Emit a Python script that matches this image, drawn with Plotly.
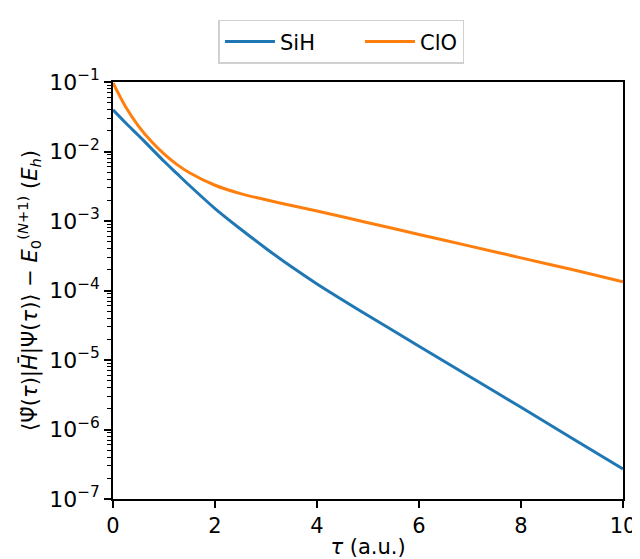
import plotly.graph_objects as go

tau = [0, 0.25, 0.5, 0.75, 1.0, 1.25, 1.5, 2.0, 2.5, 3.0, 3.5, 4.0, 5.0, 6.0, 7.0, 8.0, 9.0, 10.0]
sih = [3.98e-2, 2.57e-2, 1.70e-2, 1.11e-2, 7.24e-3, 4.84e-3, 3.24e-3, 1.51e-3, 7.67e-4, 4.03e-4,
       2.19e-4, 1.245e-4, 4.37e-5, 1.58e-5, 5.75e-6, 2.09e-6, 7.50e-7, 2.71e-7]
clo = [9.7e-2, 4.37e-2, 2.32e-2, 1.40e-2, 9.23e-3, 6.53e-3, 4.95e-3, 3.27e-3, 2.48e-3, 2.02e-3,
       1.67e-3, 1.39e-3, 9.44e-4, 6.41e-4, 4.35e-4, 2.95e-4, 2.00e-4, 1.34e-4]

ytick_vals = [1e-7, 1e-6, 1e-5, 1e-4, 1e-3, 1e-2, 1e-1]
ytick_text = ["10<sup>−7</sup>", "10<sup>−6</sup>", "10<sup>−5</sup>", "10<sup>−4</sup>",
              "10<sup>−3</sup>", "10<sup>−2</sup>", "10<sup>−1</sup>"]
xtick_vals = [0, 2, 4, 6, 8, 10]

minor_vals = [m * 10.0 ** e for e in range(-7, -1) for m in range(2, 10)]

fig = go.Figure()
fig.add_trace(go.Scatter(x=tau, y=sih, mode="lines", name="SiH\u00a0\u00a0\u00a0\u00a0\u00a0\u00a0",
                         line=dict(color="#1f77b4", width=3, shape="spline", smoothing=0.9)))
fig.add_trace(go.Scatter(x=tau, y=clo, mode="lines", name="ClO",
                         line=dict(color="#ff7f0e", width=3, shape="spline", smoothing=0.9)))

font = dict(family="DejaVu Sans", size=21, color="black")
fig.update_layout(
    width=640, height=559,
    margin=dict(l=105, r=15, t=69, b=60),
    paper_bgcolor="white", plot_bgcolor="white",
    font=font,
    showlegend=True,
    legend=dict(orientation="h", x=0.448, y=1.0965, xanchor="center", yanchor="middle",
                bordercolor="#d0d0d0", borderwidth=1.5, font=font, itemwidth=50),
)
fig.update_xaxes(range=[0, 10], tickvals=xtick_vals, ticks="outside", ticklen=7, tickwidth=1.5,
                 tickcolor="black", showline=True, linecolor="black", linewidth=1.5,
                 mirror=True, showgrid=False, zeroline=False, tickfont=dict(size=21),
                 title=dict(text="<i>τ</i> (a.u.)", standoff=2, font=font))
fig.update_yaxes(type="log", range=[-7, -1], tickvals=ytick_vals, ticktext=ytick_text,
                 ticks="outside", ticklen=7, tickwidth=1.5, tickcolor="black", showline=True,
                 linecolor="black", linewidth=1.5, mirror=True, showgrid=False, zeroline=False,
                 tickfont=dict(size=22),
                 minor=dict(tickmode="array", tickvals=minor_vals, ticks="outside",
                            ticklen=4, tickwidth=1.2, tickcolor="black", showgrid=False),
                 title=dict(text="⟨Ψ̃(<i>τ</i>)|<i>H̄</i>|Ψ(<i>τ</i>)⟩ − <i>E</i><sub>0</sub><sup>(<i>N</i>+1)</sup> (<i>E<sub>h</sub></i>)",
                            standoff=6, font=font))

fig.write_html("out.html")
